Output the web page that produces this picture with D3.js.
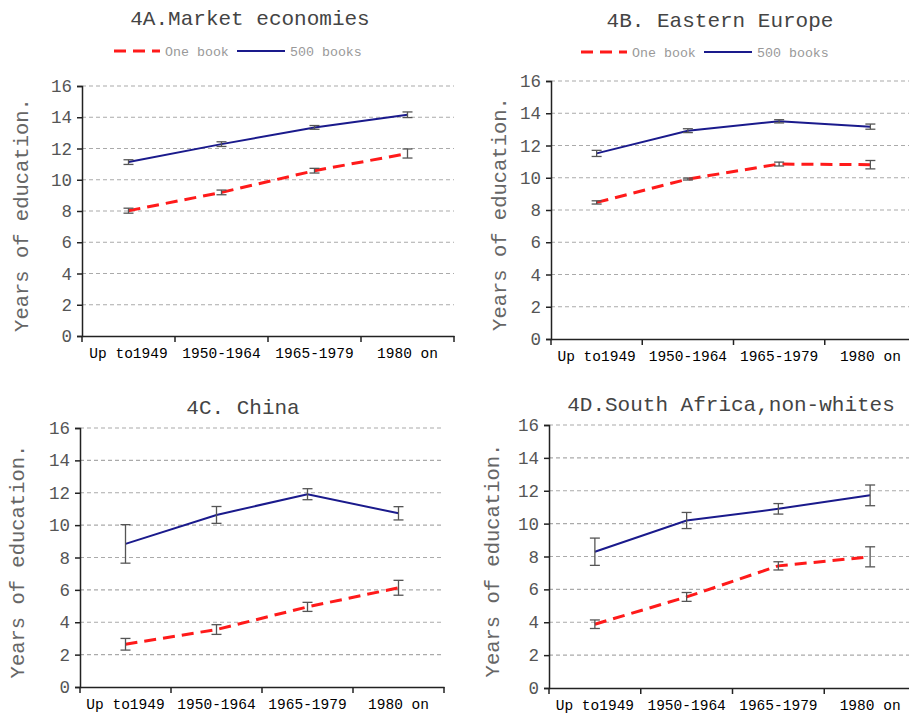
<!DOCTYPE html>
<html>
<head>
<meta charset="utf-8">
<script src="https://cdn.jsdelivr.net/npm/d3@7"></script>
<style>
  body { margin: 0; background: #fff; }
  svg { display: block; font-family: "Liberation Mono", "Courier New", monospace; }
</style>
</head>
<body>
<svg id="chart" width="909" height="715"></svg>
<script>
// categories and tick labels
var cohorts = ["Up to1949", "1950-1964", "1965-1979", "1980 on"];
var yTicks = [0, 2, 4, 6, 8, 10, 12, 14, 16];
var panelTitles = ["4A.Market economies", "4B. Eastern Europe", "4C. China", "4D.South Africa,non-whites"];
var seriesNames = ["One book", "500 books"];

// mean years of education, one book / 500 books, per panel
var oneBookA = [8.02, 9.19, 10.58, 11.68];
var oneBookErrA = [0.16, 0.15, 0.15, 0.29];
var booksA = [11.13, 12.28, 13.35, 14.16];
var booksErrA = [0.15, 0.15, 0.12, 0.18];

var oneBookB = [8.47, 9.92, 10.85, 10.81];
var oneBookErrB = [0.1, 0.06, 0.12, 0.26];
var booksB = [11.51, 12.92, 13.5, 13.17];
var booksErrB = [0.19, 0.12, 0.1, 0.16];

var oneBookC = [2.64, 3.55, 4.95, 6.13];
var oneBookErrC = [0.36, 0.3, 0.28, 0.46];
var booksC = [8.84, 10.63, 11.91, 10.73];
var booksErrC = [1.19, 0.52, 0.34, 0.41];

var oneBookD = [3.88, 5.54, 7.43, 7.98];
var oneBookErrD = [0.26, 0.27, 0.25, 0.61];
var booksD = [8.29, 10.19, 10.9, 11.72];
var booksErrD = [0.83, 0.49, 0.32, 0.63];

var svg = d3.select('#chart');

// layout of each small chart (pixel boxes)
var panels = [
    {title: panelTitles[0], one: oneBookA, oneErr: oneBookErrA, many: booksA, manyErr: booksErrA,
     left: 82, right: 454, top: 86, bottom: 336, titleX: 250, titleY: 25, legendY: 51, legendX: 114, labelX: 28},
    {title: panelTitles[1], one: oneBookB, oneErr: oneBookErrB, many: booksB, manyErr: booksErrB,
     left: 551, right: 916, top: 81, bottom: 339, titleX: 720, titleY: 27, legendY: 52, legendX: 581, labelX: 506},
    {title: panelTitles[2], one: oneBookC, oneErr: oneBookErrC, many: booksC, manyErr: booksErrC,
     left: 80, right: 444, top: 428, bottom: 687, titleX: 243, titleY: 414, legendY: null, labelX: 24},
    {title: panelTitles[3], one: oneBookD, oneErr: oneBookErrD, many: booksD, manyErr: booksErrD,
     left: 549, right: 916, top: 425, bottom: 688, titleX: 731, titleY: 411, legendY: null, labelX: 499}
];

var red = '#ff1a1a', blue = '#1a1a8c';

panels.forEach(function (p) {
    var x = d3.scaleBand().domain(cohorts).range([p.left, p.right]);
    var y = d3.scaleLinear().domain([0, 16]).range([p.bottom, p.top]);
    var g = svg.append('g');

    // grid
    g.selectAll('line.grid')
        .data(yTicks.filter(function (d) { return d > 0; }))
        .enter().append('line')
        .attr('class', 'grid')
        .attr('x1', p.left).attr('x2', p.right)
        .attr('y1', function (d) { return y(d); })
        .attr('y2', function (d) { return y(d); })
        .attr('stroke', '#aaa')
        .attr('stroke-width', 1.2)
        .attr('stroke-dasharray', '4,3');

    // y axis
    var yAxis = g.append('g')
        .attr('transform', 'translate(' + p.left + ',0)')
        .call(d3.axisLeft(y).tickValues(yTicks).tickSize(5).tickPadding(5));
    yAxis.select('.domain').attr('stroke', '#222').attr('stroke-width', 1.5);
    yAxis.selectAll('.tick line').attr('stroke', '#222').attr('stroke-width', 1.5);
    yAxis.selectAll('text').attr('font-size', 17.5).attr('fill', '#555')
        .attr('font-family', '"Liberation Mono", monospace');

    // x axis
    var xAxis = g.append('g')
        .attr('transform', 'translate(0,' + p.bottom + ')')
        .call(d3.axisBottom(x).tickSize(0).tickPadding(12));
    xAxis.select('.domain').attr('stroke', '#222').attr('stroke-width', 1.5);
    xAxis.selectAll('text').attr('font-size', 14.5).attr('fill', '#000')
        .attr('font-family', '"Liberation Mono", monospace');
    var bounds = cohorts.map(function (c) { return x(c); }).concat([p.right]);
    g.selectAll('line.xtick').data(bounds).enter().append('line')
        .attr('x1', function (d) { return d; }).attr('x2', function (d) { return d; })
        .attr('y1', p.bottom).attr('y2', p.bottom + 6)
        .attr('stroke', '#222').attr('stroke-width', 1.5);

    var cx = function (d, i) { return x(cohorts[i]) + x.bandwidth() / 2; };
    var line = d3.line()
        .x(function (d, i) { return cx(d, i); })
        .y(function (d) { return y(d); });

    g.append('path').datum(p.many)
        .attr('d', line).attr('fill', 'none')
        .attr('stroke', blue).attr('stroke-width', 2);
    g.append('path').datum(p.one)
        .attr('d', line).attr('fill', 'none')
        .attr('stroke', red).attr('stroke-width', 3)
        .attr('stroke-dasharray', '12,7');

    // error bars
    [[p.one, p.oneErr], [p.many, p.manyErr]].forEach(function (s) {
        var vals = s[0], errs = s[1];
        var eb = g.append('g').selectAll('g').data(vals).enter().append('g')
            .attr('stroke', '#555').attr('stroke-width', 1.3);
        eb.append('line')
            .attr('x1', cx).attr('x2', cx)
            .attr('y1', function (d, i) { return y(d + errs[i]); })
            .attr('y2', function (d, i) { return y(d - errs[i]); });
        eb.append('line')
            .attr('x1', function (d, i) { return cx(d, i) - 5; })
            .attr('x2', function (d, i) { return cx(d, i) + 5; })
            .attr('y1', function (d, i) { return y(d + errs[i]); })
            .attr('y2', function (d, i) { return y(d + errs[i]); });
        eb.append('line')
            .attr('x1', function (d, i) { return cx(d, i) - 5; })
            .attr('x2', function (d, i) { return cx(d, i) + 5; })
            .attr('y1', function (d, i) { return y(d - errs[i]); })
            .attr('y2', function (d, i) { return y(d - errs[i]); });
    });

    // title
    g.append('text')
        .attr('x', p.titleX).attr('y', p.titleY)
        .attr('text-anchor', 'middle')
        .attr('font-size', 21).attr('fill', '#444')
        .text(p.title);

    // y label
    g.append('text')
        .attr('transform', 'translate(' + p.labelX + ',' + ((p.top + p.bottom) / 2 + 4) + ') rotate(-90)')
        .attr('text-anchor', 'middle')
        .attr('font-size', 20.5).attr('fill', '#666')
        .text('Years of education.');

    // legend
    if (p.legendY !== null) {
        var lg = g.append('g').attr('transform', 'translate(' + p.legendX + ',' + p.legendY + ')');
        lg.append('line').attr('x1', 0).attr('x2', 46).attr('y1', 0).attr('y2', 0)
            .attr('stroke', red).attr('stroke-width', 3).attr('stroke-dasharray', '12,7');
        lg.append('text').attr('x', 51).attr('y', 4.5)
            .attr('font-size', 13.3).attr('fill', '#999').text(seriesNames[0]);
        lg.append('line').attr('x1', 123).attr('x2', 171).attr('y1', 0).attr('y2', 0)
            .attr('stroke', blue).attr('stroke-width', 2);
        lg.append('text').attr('x', 176).attr('y', 4.5)
            .attr('font-size', 13.3).attr('fill', '#999').text(seriesNames[1]);
    }
});
</script>
</body>
</html>
